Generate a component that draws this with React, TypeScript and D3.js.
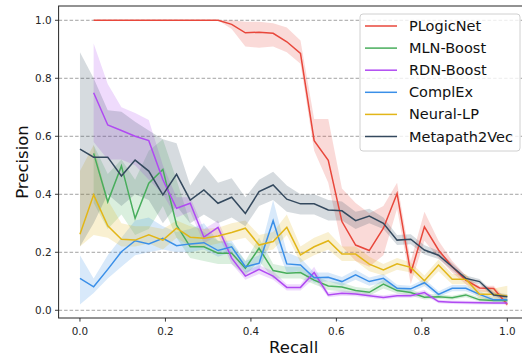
import React from "react";
import * as d3 from "d3";

// recall grid (32 points, 0..1)
const recall = [
  0, 0.032, 0.065, 0.097, 0.129, 0.161, 0.194, 0.226, 0.258, 0.29, 0.323,
  0.355, 0.387, 0.419, 0.452, 0.484, 0.516, 0.548, 0.581, 0.613, 0.645,
  0.677, 0.71, 0.742, 0.774, 0.806, 0.839, 0.871, 0.903, 0.935, 0.968, 1.0,
];

const plogicMean = [
  null, 1, 1, 1, 1, 1, 1, 1, 1, 1, 1, 0.986, 0.957, 0.959, 0.955, 0.926,
  0.886, 0.585, 0.517, 0.306, 0.225, 0.206, 0.283, 0.403, 0.128, 0.288,
  0.208, 0.15, 0.104, 0.077, 0.075, 0.02,
];
const plogicLo = [
  null, 1, 1, 1, 1, 1, 1, 1, 1, 1, 1, 0.97, 0.91, 0.905, 0.91, 0.89, 0.85,
  0.55, 0.44, 0.22, 0.17, 0.15, 0.19, 0.35, 0.09, 0.24, 0.18, 0.13, 0.09,
  0.065, 0.06, 0.012,
];
const plogicHi = [
  null, 1, 1, 1, 1, 1, 1, 1, 1, 1, 1, 1.0, 0.995, 0.995, 0.99, 0.975, 0.93,
  0.66, 0.66, 0.42, 0.37, 0.335, 0.36, 0.44, 0.17, 0.34, 0.24, 0.17, 0.12,
  0.085, 0.085, 0.035,
];

const mlnMean = [
  null, 0.541, 0.374, 0.498, 0.317, 0.438, 0.486, 0.294, 0.219, 0.219,
  0.197, 0.197, 0.145, 0.214, 0.137, 0.128, 0.13, 0.104, 0.084, 0.08, 0.068,
  0.062, 0.09, 0.068, 0.061, 0.045, 0.047, 0.043, 0.053, 0.036, 0.034, 0.034,
];
const mlnLo = [
  null, 0.37, 0.28, 0.33, 0.26, 0.28, 0.36, 0.25, 0.18, 0.17, 0.16, 0.16,
  0.12, 0.17, 0.11, 0.11, 0.11, 0.09, 0.07, 0.065, 0.055, 0.05, 0.075, 0.058,
  0.05, 0.037, 0.04, 0.036, 0.045, 0.03, 0.028, 0.028,
];
const mlnHi = [
  null, 0.57, 0.47, 0.52, 0.45, 0.55, 0.59, 0.45, 0.3, 0.27, 0.24, 0.23,
  0.17, 0.25, 0.16, 0.15, 0.15, 0.12, 0.1, 0.095, 0.08, 0.075, 0.105, 0.08,
  0.072, 0.055, 0.055, 0.05, 0.06, 0.044, 0.04, 0.04,
];

const rdnMean = [
  null, 0.75, 0.639, 0.62, 0.6, 0.585, 0.45, 0.352, 0.369, 0.252, 0.286,
  0.18, 0.118, 0.141, 0.118, 0.079, 0.079, 0.13, 0.053, 0.059, 0.056, 0.05,
  0.044, 0.05, 0.05, 0.061, 0.03, 0.028, 0.027, 0.026, 0.025, 0.025,
];
const rdnLo = [
  null, 0.58, 0.52, 0.52, 0.5, 0.45, 0.4, 0.32, 0.34, 0.23, 0.26, 0.16,
  0.105, 0.125, 0.105, 0.068, 0.068, 0.11, 0.045, 0.05, 0.048, 0.043, 0.037,
  0.043, 0.043, 0.052, 0.024, 0.022, 0.021, 0.02, 0.02, 0.02,
];
const rdnHi = [
  null, 0.92, 0.78, 0.7, 0.68, 0.656, 0.5, 0.39, 0.39, 0.28, 0.31, 0.2,
  0.135, 0.155, 0.135, 0.09, 0.09, 0.15, 0.062, 0.068, 0.065, 0.058, 0.052,
  0.058, 0.058, 0.07, 0.036, 0.034, 0.033, 0.032, 0.03, 0.03,
];

const complexMean = [
  0.11, 0.081, 0.141, 0.202, 0.24, 0.229, 0.248, 0.223, 0.229, 0.233, 0.206,
  0.219, 0.15, 0.162, 0.309, 0.16, 0.156, 0.112, 0.114, 0.099, 0.122, 0.099,
  0.11, 0.076, 0.074, 0.095, 0.055, 0.076, 0.076, 0.055, 0.036, 0.036,
];
const complexLo = [
  0.02, 0.06, 0.11, 0.15, 0.19, 0.2, 0.21, 0.2, 0.2, 0.21, 0.185, 0.2, 0.13,
  0.14, 0.25, 0.13, 0.135, 0.095, 0.1, 0.085, 0.105, 0.085, 0.095, 0.065,
  0.063, 0.083, 0.046, 0.066, 0.066, 0.046, 0.03, 0.03,
];
const complexHi = [
  0.19, 0.11, 0.19, 0.25, 0.31, 0.32, 0.29, 0.27, 0.28, 0.3, 0.24, 0.24,
  0.17, 0.19, 0.38, 0.2, 0.18, 0.13, 0.13, 0.115, 0.14, 0.113, 0.125, 0.088,
  0.085, 0.108, 0.066, 0.087, 0.087, 0.066, 0.044, 0.044,
];

const neuralMean = [
  0.262, 0.398, 0.291, 0.245, 0.242, 0.26, 0.242, 0.283, 0.252, 0.248, 0.256,
  0.268, 0.283, 0.225, 0.237, 0.286, 0.191, 0.219, 0.24, 0.194, 0.194, 0.159,
  0.139, 0.16, 0.148, 0.102, 0.156, 0.107, 0.107, 0.055, 0.055, 0.049,
];
const neuralLo = [
  0.22, 0.26, 0.25, 0.22, 0.22, 0.23, 0.21, 0.25, 0.22, 0.22, 0.23, 0.24,
  0.25, 0.2, 0.21, 0.26, 0.165, 0.19, 0.21, 0.17, 0.17, 0.135, 0.12, 0.14,
  0.13, 0.085, 0.135, 0.09, 0.09, 0.04, 0.04, 0.03,
];
const neuralHi = [
  0.48, 0.57, 0.38, 0.3, 0.29, 0.29, 0.28, 0.31, 0.29, 0.28, 0.285, 0.3,
  0.31, 0.26, 0.27, 0.33, 0.22, 0.25, 0.27, 0.22, 0.22, 0.185, 0.16, 0.18,
  0.165, 0.12, 0.175, 0.125, 0.125, 0.07, 0.075, 0.085,
];

const metaMean = [
  0.556, 0.528, 0.528, 0.463, 0.518, 0.48, 0.398, 0.469, 0.38, 0.415, 0.369,
  0.39, 0.334, 0.409, 0.432, 0.383, 0.367, 0.367, 0.346, 0.343, 0.309, 0.325,
  0.3, 0.242, 0.245, 0.208, 0.19, 0.15, 0.11, 0.099, 0.053, 0.047,
];
const metaLo = [
  0.22, 0.3, 0.4, 0.36, 0.4, 0.38, 0.3, 0.36, 0.3, 0.33, 0.3, 0.32, 0.29,
  0.36, 0.38, 0.34, 0.33, 0.33, 0.31, 0.31, 0.28, 0.3, 0.28, 0.225, 0.228,
  0.192, 0.177, 0.138, 0.1, 0.09, 0.045, 0.04,
];
const metaHi = [
  0.89, 0.8, 0.69, 0.685, 0.65, 0.62, 0.59, 0.576, 0.43, 0.5, 0.44, 0.455,
  0.39, 0.45, 0.478, 0.43, 0.4, 0.4, 0.38, 0.375, 0.34, 0.35, 0.32, 0.26,
  0.262, 0.224, 0.205, 0.162, 0.12, 0.108, 0.062, 0.055,
];

const ticks = [0, 0.2, 0.4, 0.6, 0.8, 1.0];

const series = [
  { name: "PLogicNet", color: "#e8473b", mean: plogicMean, lo: plogicLo, hi: plogicHi },
  { name: "MLN-Boost", color: "#48ad5c", mean: mlnMean, lo: mlnLo, hi: mlnHi },
  { name: "RDN-Boost", color: "#b04af2", mean: rdnMean, lo: rdnLo, hi: rdnHi },
  { name: "ComplEx", color: "#3a8fe8", mean: complexMean, lo: complexLo, hi: complexHi },
  { name: "Neural-LP", color: "#e2b618", mean: neuralMean, lo: neuralLo, hi: neuralHi },
  { name: "Metapath2Vec", color: "#34495e", mean: metaMean, lo: metaLo, hi: metaHi },
];

const W = 522;
const H = 356;
const left = 58.6;
const right = 528.7;
const top = 6;
const bottom = 318;

export default function App() {
  const x = d3.scaleLinear().domain([-0.05, 1.05]).range([left, right]);
  const y = d3.scaleLinear().domain([-0.0266, 1.0493]).range([bottom, top]);

  const fmt = d3.format(".1f");

  const line = (vals) =>
    d3
      .line()
      .defined((d) => d[1] != null)
      .x((d) => x(d[0]))
      .y((d) => y(d[1]))(recall.map((r, i) => [r, vals[i]]));

  const band = (lo, hi) =>
    d3
      .area()
      .defined((d) => d[1] != null)
      .x((d) => x(d[0]))
      .y0((d) => y(d[1]))
      .y1((d) => y(d[2]))(recall.map((r, i) => [r, lo[i], hi[i]]));

  const font = "DejaVu Sans, sans-serif";

  return (
    <svg
      width={W}
      height={H}
      style={{ position: "absolute", left: 0, top: 0, background: "#fff" }}
      fontFamily={font}
    >
      <defs>
        <clipPath id="plot">
          <rect x={left} y={top} width={right - left} height={bottom - top} />
        </clipPath>
      </defs>

      {/* grid */}
      {ticks.map((t) => (
        <line
          key={"g" + t}
          x1={left}
          x2={right}
          y1={y(t)}
          y2={y(t)}
          stroke="#8a8a8a"
          strokeWidth={0.8}
          strokeDasharray="3.5,2"
        />
      ))}

      <g clipPath="url(#plot)">
        {series.map((s) => (
          <path key={s.name + "b"} d={band(s.lo, s.hi)} fill={s.color} fillOpacity={0.2} stroke="none" />
        ))}
        {series.map((s) => (
          <path key={s.name} d={line(s.mean)} fill="none" stroke={s.color} strokeWidth={1.5} strokeLinejoin="miter" />
        ))}
      </g>

      {/* spines */}
      <rect x={left} y={top} width={right - left} height={bottom - top} fill="none" stroke="#262626" strokeWidth={1} />

      {/* y axis */}
      {ticks.map((t) => (
        <g key={"y" + t}>
          <line x1={left - 3.6} x2={left} y1={y(t)} y2={y(t)} stroke="#262626" strokeWidth={0.9} />
          <text x={left - 7} y={y(t)} textAnchor="end" dominantBaseline="central" fontSize={10.4} fill="#262626">
            {fmt(t)}
          </text>
        </g>
      ))}

      {/* x axis */}
      {ticks.map((t) => (
        <g key={"x" + t}>
          <line x1={x(t)} x2={x(t)} y1={bottom} y2={bottom + 3.6} stroke="#262626" strokeWidth={0.9} />
          <text x={x(t)} y={334.5} textAnchor="middle" fontSize={10.4} fill="#262626">
            {fmt(t)}
          </text>
        </g>
      ))}

      <text x={(left + right) / 2} y={353} textAnchor="middle" fontSize={16.5} fill="#111">
        Recall
      </text>
      <text
        transform={`translate(27.5,${(top + bottom) / 2}) rotate(-90)`}
        textAnchor="middle"
        fontSize={16.5}
        fill="#111"
      >
        Precision
      </text>

      {/* legend */}
      <rect x={360} y={14} width={160} height={137} rx={3} fill="#fff" fillOpacity={0.8} stroke="#d0d0d0" strokeWidth={1} />
      {series.map((s, i) => {
        const ly = 26 + i * 22.1;
        return (
          <g key={"l" + s.name}>
            <line x1={365} x2={397} y1={ly} y2={ly} stroke={s.color} strokeWidth={1.5} />
            <text x={409} y={ly} dominantBaseline="central" fontSize={14.5} fill="#111">
              {s.name}
            </text>
          </g>
        );
      })}
    </svg>
  );
}
